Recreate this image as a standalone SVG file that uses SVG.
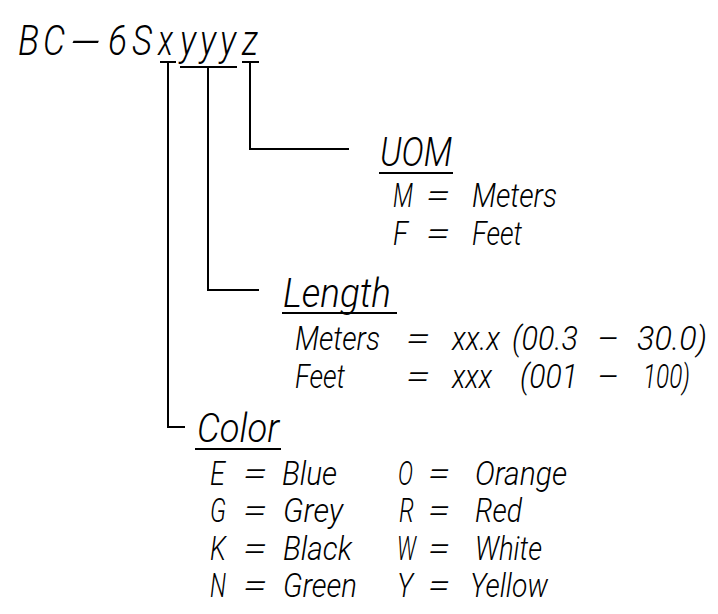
<svg xmlns="http://www.w3.org/2000/svg" width="718" height="614" viewBox="0 0 718 614">
<style>
text{font-family:Roboto,"Liberation Sans",sans-serif;font-style:italic;font-weight:300;fill:#000}
.t{font-size:42px}
.h{font-size:40px}
.b{font-size:34px}
line{stroke:#000;stroke-width:2;fill:none}
polyline{stroke:#000;stroke-width:2;fill:none}
</style>
<rect width="718" height="614" fill="#fff"/>
<g id="title">
<text class="t" x="18" y="55" textLength="21" lengthAdjust="spacingAndGlyphs">B</text>
<text class="t" x="43" y="55" textLength="22" lengthAdjust="spacingAndGlyphs">C</text>
<text class="t" x="70" y="55" textLength="31" lengthAdjust="spacingAndGlyphs">-</text>
<text class="t" x="108" y="55" textLength="19" lengthAdjust="spacingAndGlyphs">6</text>
<text class="t" x="132" y="55" textLength="20" lengthAdjust="spacingAndGlyphs">S</text>
<text class="t" x="158" y="55" textLength="15" lengthAdjust="spacingAndGlyphs">x</text>
<text class="t" x="180" y="55" textLength="16" lengthAdjust="spacingAndGlyphs">y</text>
<text class="t" x="200" y="55" textLength="16" lengthAdjust="spacingAndGlyphs">y</text>
<text class="t" x="220" y="55" textLength="16" lengthAdjust="spacingAndGlyphs">y</text>
<text class="t" x="242" y="55" textLength="16" lengthAdjust="spacingAndGlyphs">z</text>
</g>
<g id="connectors">
<line x1="160" y1="62" x2="176" y2="62"/>
<line x1="180" y1="67" x2="237" y2="67"/>
<line x1="242" y1="62" x2="259" y2="62"/>
<polyline points="250,62 250,149 349,149"/>
<polyline points="208,67 208,290 259,290"/>
<polyline points="168,62 168,427 185,427"/>
</g>
<g id="uom">
<text class="h" x="380" y="166" textLength="72" lengthAdjust="spacingAndGlyphs">UOM</text>
<line x1="379" y1="173" x2="453" y2="173"/>
<text class="b" x="393" y="207" textLength="20" lengthAdjust="spacingAndGlyphs">M</text>
<text class="b" x="426" y="207" textLength="24" lengthAdjust="spacingAndGlyphs">=</text>
<text class="b" x="472" y="207" textLength="85" lengthAdjust="spacingAndGlyphs">Meters</text>
<text class="b" x="393" y="245" textLength="15" lengthAdjust="spacingAndGlyphs">F</text>
<text class="b" x="426" y="245" textLength="24" lengthAdjust="spacingAndGlyphs">=</text>
<text class="b" x="472" y="245" textLength="50" lengthAdjust="spacingAndGlyphs">Feet</text>
</g>
<g id="length">
<text class="h" x="283" y="307" textLength="108" lengthAdjust="spacingAndGlyphs">Length</text>
<line x1="282" y1="313" x2="397" y2="313"/>
<text class="b" x="295" y="350" textLength="85" lengthAdjust="spacingAndGlyphs">Meters</text>
<text class="b" x="406" y="350" textLength="24" lengthAdjust="spacingAndGlyphs">=</text>
<text class="b" x="452" y="350" textLength="48" lengthAdjust="spacingAndGlyphs">xx.x</text>
<text class="b" x="512" y="350" textLength="66" lengthAdjust="spacingAndGlyphs">(00.3</text>
<text class="b" x="597" y="350" textLength="22" lengthAdjust="spacingAndGlyphs">–</text>
<text class="b" x="637" y="350" textLength="70" lengthAdjust="spacingAndGlyphs">30.0)</text>
<text class="b" x="295" y="388" textLength="50" lengthAdjust="spacingAndGlyphs">Feet</text>
<text class="b" x="406" y="388" textLength="24" lengthAdjust="spacingAndGlyphs">=</text>
<text class="b" x="452" y="388" textLength="40" lengthAdjust="spacingAndGlyphs">xxx</text>
<text class="b" x="520" y="388" textLength="58" lengthAdjust="spacingAndGlyphs">(001</text>
<text class="b" x="597" y="388" textLength="22" lengthAdjust="spacingAndGlyphs">–</text>
<text class="b" x="643" y="388" textLength="47" lengthAdjust="spacingAndGlyphs">100)</text>
</g>
<g id="color">
<text class="h" x="197" y="442" textLength="82" lengthAdjust="spacingAndGlyphs">Color</text>
<line x1="195" y1="449" x2="281" y2="449"/>
<text class="b" x="210" y="485" textLength="15" lengthAdjust="spacingAndGlyphs">E</text>
<text class="b" x="243" y="485" textLength="24" lengthAdjust="spacingAndGlyphs">=</text>
<text class="b" x="282" y="485" textLength="55" lengthAdjust="spacingAndGlyphs">Blue</text>
<text class="b" x="398" y="485" textLength="15" lengthAdjust="spacingAndGlyphs">O</text>
<text class="b" x="428" y="485" textLength="22" lengthAdjust="spacingAndGlyphs">=</text>
<text class="b" x="475" y="485" textLength="92" lengthAdjust="spacingAndGlyphs">Orange</text>
<text class="b" x="210" y="522" textLength="16" lengthAdjust="spacingAndGlyphs">G</text>
<text class="b" x="243" y="522" textLength="24" lengthAdjust="spacingAndGlyphs">=</text>
<text class="b" x="283" y="522" textLength="60" lengthAdjust="spacingAndGlyphs">Grey</text>
<text class="b" x="399" y="522" textLength="15" lengthAdjust="spacingAndGlyphs">R</text>
<text class="b" x="428" y="522" textLength="22" lengthAdjust="spacingAndGlyphs">=</text>
<text class="b" x="475" y="522" textLength="47" lengthAdjust="spacingAndGlyphs">Red</text>
<text class="b" x="210" y="560" textLength="16" lengthAdjust="spacingAndGlyphs">K</text>
<text class="b" x="243" y="560" textLength="24" lengthAdjust="spacingAndGlyphs">=</text>
<text class="b" x="283" y="560" textLength="69" lengthAdjust="spacingAndGlyphs">Black</text>
<text class="b" x="397" y="560" textLength="19" lengthAdjust="spacingAndGlyphs">W</text>
<text class="b" x="428" y="560" textLength="22" lengthAdjust="spacingAndGlyphs">=</text>
<text class="b" x="475" y="560" textLength="67" lengthAdjust="spacingAndGlyphs">White</text>
<text class="b" x="210" y="597" textLength="16" lengthAdjust="spacingAndGlyphs">N</text>
<text class="b" x="243" y="597" textLength="24" lengthAdjust="spacingAndGlyphs">=</text>
<text class="b" x="283" y="597" textLength="74" lengthAdjust="spacingAndGlyphs">Green</text>
<text class="b" x="397" y="597" textLength="16" lengthAdjust="spacingAndGlyphs">Y</text>
<text class="b" x="428" y="597" textLength="22" lengthAdjust="spacingAndGlyphs">=</text>
<text class="b" x="470" y="597" textLength="78" lengthAdjust="spacingAndGlyphs">Yellow</text>
</g>
</svg>
